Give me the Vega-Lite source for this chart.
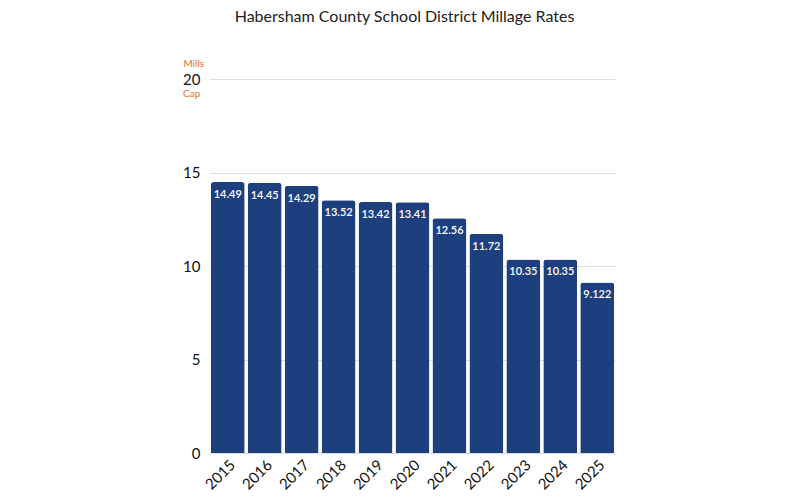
{
  "$schema": "https://vega.github.io/schema/vega-lite/v6.json",
  "width": 405,
  "height": 374,
  "autosize": {"type": "none"},
  "padding": {"left": 210, "top": 79, "right": 185, "bottom": 47},
  "background": "white",
  "config": {
    "font": "Lato",
    "view": {"stroke": null}
  },
  "title": {
    "text": "Habersham County School District Millage Rates",
    "fontSize": 16,
    "fontWeight": "normal",
    "color": "#222222",
    "anchor": "middle",
    "offset": 34,
    "dx": -8
  },
  "data": {
    "values": [
      {"year": "2015", "rate": 14.49, "label": "14.49"},
      {"year": "2016", "rate": 14.45, "label": "14.45"},
      {"year": "2017", "rate": 14.29, "label": "14.29"},
      {"year": "2018", "rate": 13.52, "label": "13.52"},
      {"year": "2019", "rate": 13.42, "label": "13.42"},
      {"year": "2020", "rate": 13.41, "label": "13.41"},
      {"year": "2021", "rate": 12.56, "label": "12.56"},
      {"year": "2022", "rate": 11.72, "label": "11.72"},
      {"year": "2023", "rate": 10.35, "label": "10.35"},
      {"year": "2024", "rate": 10.35, "label": "10.35"},
      {"year": "2025", "rate": 9.122, "label": "9.122"}
    ]
  },
  "encoding": {
    "x": {
      "field": "year",
      "type": "ordinal",
      "scale": {"paddingInner": 0.08, "paddingOuter": 0.02},
      "axis": {
        "title": null,
        "labelAngle": -45,
        "labelFontSize": 15,
        "labelColor": "#111111",
        "domain": false,
        "ticks": false,
        "labelPadding": 4
      }
    },
    "y": {
      "field": "rate",
      "type": "quantitative",
      "scale": {"domain": [0, 20]},
      "axis": {
        "title": null,
        "values": [0, 5, 10, 15, 20],
        "labelFontSize": 15,
        "labelColor": "#111111",
        "domain": false,
        "ticks": false,
        "labelPadding": 10,
        "gridColor": "#dddddd",
        "gridWidth": 1
      }
    }
  },
  "layer": [
    {
      "mark": {"type": "bar", "color": "#1e3f7e", "cornerRadiusTopLeft": 3, "cornerRadiusTopRight": 3}
    },
    {
      "mark": {"type": "text", "color": "white", "fontSize": 11, "fontWeight": 600, "baseline": "top", "dy": 7},
      "encoding": {"text": {"field": "label"}}
    },
    {
      "data": {"values": [{"t": "Mills", "v": 20}]},
      "mark": {"type": "text", "color": "#e8731e", "fontSize": 10, "align": "center", "dx": -34, "dy": -15},
      "encoding": {
        "x": {"datum": "2015"},
        "y": {"field": "v", "type": "quantitative"},
        "text": {"field": "t"}
      }
    },
    {
      "data": {"values": [{"t": "Cap", "v": 20}]},
      "mark": {"type": "text", "color": "#e8731e", "fontSize": 10, "align": "center", "dx": -36, "dy": 15},
      "encoding": {
        "x": {"datum": "2015"},
        "y": {"field": "v", "type": "quantitative"},
        "text": {"field": "t"}
      }
    }
  ]
}
